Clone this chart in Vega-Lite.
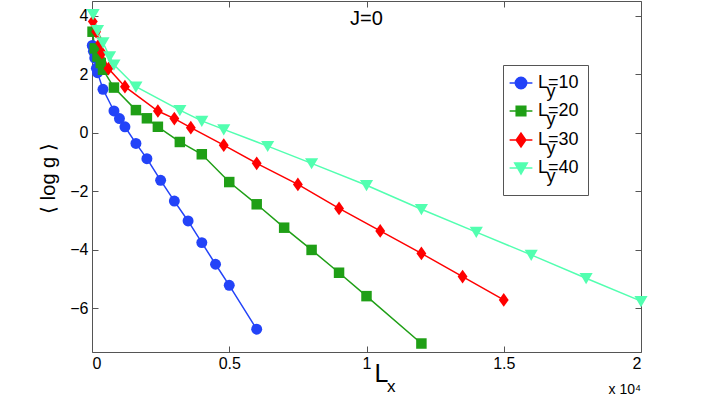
{
  "$schema": "https://vega.github.io/schema/vega-lite/v6.json",
  "width": 549,
  "height": 351,
  "autosize": {"type": "none"},
  "padding": {"left": 92, "top": 1, "right": 67, "bottom": 44},
  "background": "white",
  "config": {
    "view": {"stroke": null},
    "font": "Liberation Sans",
    "style": {"guide-label": {"lineHeight": 9}},
    "axis": {
      "domainColor": "#555555",
      "tickColor": "#555555",
      "domainWidth": 1,
      "tickWidth": 1,
      "grid": false,
      "labelFont": "Liberation Sans",
      "labelFontSize": 16,
      "labelColor": "black",
      "titleFont": "Liberation Sans",
      "titleColor": "black",
      "titleFontWeight": "normal"
    }
  },
  "title": {
    "text": "J=0",
    "font": "Liberation Sans",
    "fontSize": 20,
    "fontWeight": "normal",
    "color": "black",
    "anchor": "middle",
    "offset": -28
  },
  "data": {
    "values": [
      {"Lx": 10, "logg": 2.98, "Ly": "10"},
      {"Lx": 50, "logg": 2.78, "Ly": "10"},
      {"Lx": 100, "logg": 2.55, "Ly": "10"},
      {"Lx": 160, "logg": 2.2, "Ly": "10"},
      {"Lx": 200, "logg": 2.05, "Ly": "10"},
      {"Lx": 400, "logg": 1.48, "Ly": "10"},
      {"Lx": 800, "logg": 0.74, "Ly": "10"},
      {"Lx": 1000, "logg": 0.48, "Ly": "10"},
      {"Lx": 1200, "logg": 0.2, "Ly": "10"},
      {"Lx": 1600, "logg": -0.37, "Ly": "10"},
      {"Lx": 2000, "logg": -0.89, "Ly": "10"},
      {"Lx": 2500, "logg": -1.63, "Ly": "10"},
      {"Lx": 3000, "logg": -2.34, "Ly": "10"},
      {"Lx": 3500, "logg": -3.02, "Ly": "10"},
      {"Lx": 4000, "logg": -3.76, "Ly": "10"},
      {"Lx": 4500, "logg": -4.5, "Ly": "10"},
      {"Lx": 5000, "logg": -5.22, "Ly": "10"},
      {"Lx": 6000, "logg": -6.72, "Ly": "10"},
      {"Lx": 20, "logg": 3.45, "Ly": "20"},
      {"Lx": 100, "logg": 2.88, "Ly": "20"},
      {"Lx": 200, "logg": 2.6, "Ly": "20"},
      {"Lx": 320, "logg": 2.38, "Ly": "20"},
      {"Lx": 400, "logg": 2.15, "Ly": "20"},
      {"Lx": 800, "logg": 1.54, "Ly": "20"},
      {"Lx": 1600, "logg": 0.77, "Ly": "20"},
      {"Lx": 2000, "logg": 0.49, "Ly": "20"},
      {"Lx": 2400, "logg": 0.2, "Ly": "20"},
      {"Lx": 3200, "logg": -0.32, "Ly": "20"},
      {"Lx": 4000, "logg": -0.74, "Ly": "20"},
      {"Lx": 5000, "logg": -1.69, "Ly": "20"},
      {"Lx": 6000, "logg": -2.45, "Ly": "20"},
      {"Lx": 7000, "logg": -3.25, "Ly": "20"},
      {"Lx": 8000, "logg": -4.01, "Ly": "20"},
      {"Lx": 9000, "logg": -4.79, "Ly": "20"},
      {"Lx": 10000, "logg": -5.59, "Ly": "20"},
      {"Lx": 12000, "logg": -7.21, "Ly": "20"},
      {"Lx": 30, "logg": 3.8, "Ly": "30"},
      {"Lx": 150, "logg": 3.45, "Ly": "30"},
      {"Lx": 300, "logg": 3.06, "Ly": "30"},
      {"Lx": 360, "logg": 2.73, "Ly": "30"},
      {"Lx": 600, "logg": 2.19, "Ly": "30"},
      {"Lx": 1200, "logg": 1.57, "Ly": "30"},
      {"Lx": 2400, "logg": 0.74, "Ly": "30"},
      {"Lx": 3000, "logg": 0.48, "Ly": "30"},
      {"Lx": 3600, "logg": 0.17, "Ly": "30"},
      {"Lx": 4800, "logg": -0.43, "Ly": "30"},
      {"Lx": 6000, "logg": -1.05, "Ly": "30"},
      {"Lx": 7500, "logg": -1.77, "Ly": "30"},
      {"Lx": 9000, "logg": -2.59, "Ly": "30"},
      {"Lx": 10500, "logg": -3.36, "Ly": "30"},
      {"Lx": 12000, "logg": -4.13, "Ly": "30"},
      {"Lx": 13500, "logg": -4.92, "Ly": "30"},
      {"Lx": 15000, "logg": -5.72, "Ly": "30"},
      {"Lx": 40, "logg": 4.05, "Ly": "40"},
      {"Lx": 200, "logg": 3.5, "Ly": "40"},
      {"Lx": 400, "logg": 3.08, "Ly": "40"},
      {"Lx": 640, "logg": 2.6, "Ly": "40"},
      {"Lx": 800, "logg": 2.32, "Ly": "40"},
      {"Lx": 1600, "logg": 1.57, "Ly": "40"},
      {"Lx": 3200, "logg": 0.77, "Ly": "40"},
      {"Lx": 4000, "logg": 0.4, "Ly": "40"},
      {"Lx": 4800, "logg": 0.11, "Ly": "40"},
      {"Lx": 6400, "logg": -0.46, "Ly": "40"},
      {"Lx": 8000, "logg": -1.05, "Ly": "40"},
      {"Lx": 10000, "logg": -1.8, "Ly": "40"},
      {"Lx": 12000, "logg": -2.62, "Ly": "40"},
      {"Lx": 14000, "logg": -3.4, "Ly": "40"},
      {"Lx": 16000, "logg": -4.18, "Ly": "40"},
      {"Lx": 18000, "logg": -4.98, "Ly": "40"},
      {"Lx": 20000, "logg": -5.76, "Ly": "40"}
    ]
  },
  "layer": [
    {
      "mark": {"type": "line", "strokeWidth": 1.5},
      "encoding": {
        "x": {
          "field": "Lx", "type": "quantitative",
          "scale": {"domain": [0, 20000], "nice": false, "zero": false},
          "axis": {
            "orient": "bottom",
            "values": [0, 5000, 10000, 15000, 20000],
            "labelExpr": "'' + datum.value / 10000",
            "tickSize": -6,
            "labelPadding": 9,
            "title": "L",
            "titleFontSize": 25,
            "titleAlign": "left",
            "titleBaseline": "alphabetic",
            "titleX": 282,
            "titleY": 29
          }
        },
        "y": {
          "field": "logg", "type": "quantitative",
          "scale": {"domain": [-7.5, 4.5], "nice": false, "zero": false},
          "axis": {
            "orient": "left",
            "values": [-6, -4, -2, 0, 2, 4],
            "tickSize": -6,
            "labelPadding": 10,
            "title": "⟨ log g ⟩",
            "titleFontSize": 20,
            "titleAngle": -90,
            "titleAlign": "center",
            "titleBaseline": "middle",
            "titleX": -44,
            "titleY": 177
          }
        },
        "color": {
          "field": "Ly", "type": "nominal",
          "scale": {"domain": ["10", "20", "30", "40"], "range": ["#2343f8", "#1f9f16", "#ff0000", "#52ffb0"]},
          "legend": {
            "title": null,
            "orient": "none",
            "legendX": 411,
            "legendY": 64,
            "strokeColor": "#555555",
            "fillColor": "white",
            "padding": 9,
            "symbolSize": 144,
            "symbolStrokeWidth": 1.5,
            "symbolStrokeColor": {"expr": "scale('color', datum.value)"},
            "symbolFillColor": {"expr": "scale('color', datum.value)"},
            "symbolType": {"expr": "datum.value === '10' ? 'M-1.9,0H1.9M0.95,0A0.95,0.95,0,1,1,-0.95,0A0.95,0.95,0,1,1,0.95,0Z' : datum.value === '20' ? 'M-1.9,0H1.9M-0.8,-0.8H0.8V0.8H-0.8Z' : datum.value === '30' ? 'M-1.9,0H1.9M0,-1.15L0.8,0L0,1.15L-0.8,0Z' : 'M-1.9,0H1.9M-1.05,-0.85H1.05L0,1Z'"},
            "symbolOpacity": 1,
            "labelOffset": 8,
            "labelFont": "Liberation Sans",
            "labelFontSize": 18,
            "labelColor": "black",
            "rowPadding": 1,
            "labelExpr": "['L=' + datum.label, '\u200b\u00a0\u2009y']"
          }
        }
      }
    },
    {
      "transform": [{"filter": "datum.Ly === '10'"}],
      "mark": {"type": "point", "filled": true, "opacity": 1, "size": 120, "shape": "circle"},
      "encoding": {
        "x": {"field": "Lx", "type": "quantitative", "axis": null},
        "y": {"field": "logg", "type": "quantitative", "axis": null},
        "color": {"field": "Ly", "type": "nominal", "legend": null}
      }
    },
    {
      "transform": [{"filter": "datum.Ly === '20'"}],
      "mark": {"type": "point", "filled": true, "opacity": 1, "size": 110, "shape": "square"},
      "encoding": {
        "x": {"field": "Lx", "type": "quantitative", "axis": null},
        "y": {"field": "logg", "type": "quantitative", "axis": null},
        "color": {"field": "Ly", "type": "nominal", "legend": null}
      }
    },
    {
      "transform": [{"filter": "datum.Ly === '30'"}],
      "mark": {"type": "point", "filled": true, "opacity": 1, "size": 120, "shape": "M0,-1.25L0.9,0L0,1.25L-0.9,0Z"},
      "encoding": {
        "x": {"field": "Lx", "type": "quantitative", "axis": null},
        "y": {"field": "logg", "type": "quantitative", "axis": null},
        "color": {"field": "Ly", "type": "nominal", "legend": null}
      }
    },
    {
      "transform": [{"filter": "datum.Ly === '40'"}],
      "mark": {"type": "point", "filled": true, "opacity": 1, "size": 120, "shape": "M-1.2,-0.95H1.2L0,1.1Z"},
      "encoding": {
        "x": {"field": "Lx", "type": "quantitative", "axis": null},
        "y": {"field": "logg", "type": "quantitative", "axis": null},
        "color": {"field": "Ly", "type": "nominal", "legend": null}
      }
    },
    {
      "mark": {"type": "point", "opacity": 0},
      "encoding": {
        "x": {
          "field": "Lx", "type": "quantitative",
          "axis": {"orient": "top", "values": [0, 5000, 10000, 15000, 20000], "labels": false, "tickSize": -6, "title": null}
        },
        "y": {
          "field": "logg", "type": "quantitative",
          "axis": {"orient": "right", "values": [-6, -4, -2, 0, 2, 4], "labels": false, "tickSize": -6, "title": null}
        }
      }
    },
    {
      "data": {"values": [{"Lx": 20000, "logg": -7.5, "t": "x 10⁴"}]},
      "mark": {"type": "text", "align": "right", "baseline": "alphabetic", "dy": 42, "fontSize": 14, "font": "Liberation Sans", "color": "black"},
      "encoding": {
        "x": {"field": "Lx", "type": "quantitative", "axis": null},
        "y": {"field": "logg", "type": "quantitative", "axis": null},
        "text": {"field": "t"}
      }
    },
    {
      "data": {"values": [{"Lx": 10750, "logg": -7.5, "t": "x"}]},
      "mark": {"type": "text", "align": "left", "baseline": "alphabetic", "dy": 40, "fontSize": 17, "font": "Liberation Sans", "color": "black"},
      "encoding": {
        "x": {"field": "Lx", "type": "quantitative", "axis": null},
        "y": {"field": "logg", "type": "quantitative", "axis": null},
        "text": {"field": "t"}
      }
    }
  ],
  "resolve": {"axis": {"x": "independent", "y": "independent"}}
}
